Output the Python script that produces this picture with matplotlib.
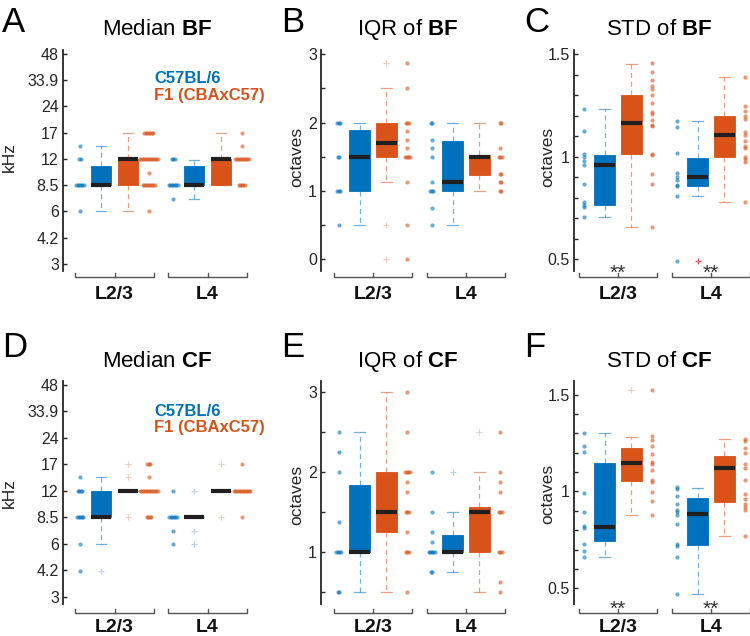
import matplotlib
matplotlib.use('Agg')
import matplotlib.pyplot as plt
import numpy as np

plt.rcParams['font.family'] = 'Liberation Sans'
plt.rcParams['mathtext.fontset'] = 'custom'
plt.rcParams['mathtext.rm'] = 'Liberation Sans'
plt.rcParams['mathtext.bf'] = 'Liberation Sans:bold'

BLUE = '#0072BD'
ORANGE = '#D95319'
DARK = '#262626'

groups = ['L2/3', 'L4']
strains = ['C57BL/6', 'F1 (CBAxC57)']

# ---- A: median BF (kHz) ----
A_blue_23 = [6] + [8.5] * 6 + [12] * 2 + [14.3]
A_orange_23 = [6] + [8.5] * 9 + [10] + [12] * 13 + [17] * 7
A_blue_4 = [7.1] + [8.5] * 7 + [12] * 3
A_orange_4 = [8.5] * 5 + [12] * 10 + [14.3, 17]
# whislo, q1, med, q3, whishi  (blue L2/3, orange L2/3, blue L4, orange L4)
A_stats = [[6, 8.5, 8.5, 11, 14.3], [6, 8.5, 12, 12, 17],
           [7.1, 8.5, 8.5, 10.9, 11.8], [8.5, 8.5, 12, 12, 17]]
A_fliers = [[], [], [], []]

# ---- B: IQR of BF (octaves) ----
B_blue_23 = [0.5] + [1] * 3 + [1.5] * 2 + [2] * 3
B_orange_23 = [0, 0.5, 1.125] + [1.5] * 4 + [1.625, 1.75, 1.875] + [2] * 3 + [2.5, 2.875]
B_blue_4 = [0.5, 0.75] + [1] * 3 + [1.125, 1.5, 1.625, 1.75] + [2] * 2
B_orange_4 = [1] * 2 + [1.125] * 2 + [1.25] * 2 + [1.5] * 3 + [1.625] + [2] * 2
B_stats = [[0.5, 1.0, 1.5, 1.89, 2.0], [1.125, 1.5, 1.7, 2.0, 2.5],
           [0.5, 1.0, 1.125, 1.73, 2.0], [1.0, 1.23, 1.5, 1.52, 2.0]]
B_fliers = [[], [0, 0.5, 2.875], [], []]

# ---- C: STD of BF (octaves) ----
C_blue_23 = [0.707, 0.753, 0.763, 0.779, 0.865, 0.958, 0.98, 1.0, 1.015, 1.125, 1.234]
C_orange_23 = [0.657, 0.867, 0.916, 1.006, 1.014, 1.149, 1.156, 1.177, 1.21, 1.218,
               1.259, 1.30, 1.33, 1.343, 1.373, 1.414, 1.454]
C_blue_4 = [0.49, 0.808, 0.855, 0.86, 0.887, 0.903, 0.919, 1.019, 1.144, 1.174]
C_orange_4 = [0.779, 0.975, 0.99, 0.997, 1.04, 1.053, 1.076, 1.107, 1.12, 1.183,
              1.197, 1.221, 1.245, 1.389]
C_stats = [[0.707, 0.766, 0.958, 1.01, 1.234], [0.657, 1.014, 1.166, 1.30, 1.451],
           [0.808, 0.857, 0.90, 0.994, 1.174], [0.779, 0.997, 1.104, 1.198, 1.386]]
C_fliers = [[], [], [0.49], []]

# ---- D: median CF (kHz) ----
D_blue_23 = [4.2, 6] + [8.5] * 5 + [12] * 4 + [14.3]
D_orange_23 = [8.5] * 4 + [12] * 13 + [14.3] + [17] * 3
D_blue_4 = [6, 7.1] + [8.5] * 6 + [12]
D_orange_4 = [8.5] + [12] * 12 + [17]
D_stats = [[6, 8.5, 8.5, 12, 14.3], [12, 12, 12, 12, 12],
           [8.5, 8.5, 8.5, 8.5, 8.5], [12, 12, 12, 12, 12]]
D_fliers = [[4.2], [8.5, 14.3, 17], [6, 7.1, 12], [8.5, 17]]

# ---- E: IQR of CF (octaves) ----
E_blue_23 = [0.5] * 2 + [1] * 4 + [1.375, 2, 2.25, 2.5]
E_orange_23 = [0.5] + [1] * 3 + [1.25] + [1.5] * 3 + [1.75, 1.875] + [2] * 4 + [2.5, 3]
E_blue_4 = [0.75] * 2 + [1] * 5 + [1.125, 1.25, 1.5, 2]
E_orange_4 = [0.5, 0.625] + [1] * 3 + [1.5] * 3 + [1.75, 1.875, 2, 2.5]
E_stats = [[0.5, 1.0, 1.0, 1.84, 2.5], [0.5, 1.25, 1.5, 2.0, 3.0],
           [0.75, 1.0, 1.0, 1.21, 1.5], [0.5, 1.0, 1.5, 1.56, 2.0]]
E_fliers = [[], [], [2.0], [2.5]]

# ---- F: STD of CF (octaves) ----
F_blue_23 = [0.659, 0.694, 0.727, 0.811, 0.82, 0.896, 0.991, 1.204, 1.237, 1.30]
F_orange_23 = [0.877, 0.953, 0.998, 1.047, 1.06, 1.109, 1.14, 1.152, 1.196, 1.235,
               1.265, 1.287, 1.524]
F_blue_4 = [0.469, 0.659, 0.72, 0.728, 0.832, 0.879, 0.892, 0.905, 0.936, 0.975,
            1.014, 1.022]
F_orange_4 = [0.768, 0.902, 0.919, 0.936, 0.962, 0.988, 1.057, 1.123, 1.143, 1.20,
              1.225, 1.259, 1.273]
F_stats = [[0.659, 0.742, 0.818, 1.149, 1.30], [0.877, 1.054, 1.147, 1.225, 1.282],
           [0.472, 0.723, 0.884, 0.965, 1.019], [0.768, 0.948, 1.123, 1.181, 1.273]]
F_fliers = [[], [1.524], [], []]

khz_ticks = [3 * 2 ** (k / 2) for k in range(9)]
khz_labels = ['3', '4.2', '6', '8.5', '12', '17', '24', '33.9', '48']

W, H = 750, 636
U = 93.0  # pixels per group step

fig = plt.figure(figsize=(W / 100, H / 100), dpi=100)


def spread(vals, x0, step=0.016):
    vals = np.asarray(vals, dtype=float)
    xs, ys = [], []
    for v in np.unique(vals):
        n = int(np.sum(vals == v))
        off = (np.arange(n) - (n - 1) / 2) * step
        xs.extend(x0 + off)
        ys.extend([v] * n)
    return xs, ys


def panel(left, top, bottom, first_px, scatters, stats, fliers, ylim, logy,
          yticks, ylabels, minor, stars, lab_base):
    x0 = 1 - (first_px - left) / U
    x1 = 2.5
    ax = fig.add_axes([left / W, 1 - bottom / H, (x1 - x0) * U / W, (bottom - top) / H])
    ax.patch.set_alpha(0)
    if logy:
        ax.set_yscale('log', base=2)
    ax.set_xlim(x0, x1)
    ax.set_ylim(*ylim)
    cols = [BLUE, ORANGE, BLUE, ORANGE]
    for i in range(4):
        g = 1 + i // 2
        side = -1 if i % 2 == 0 else 1
        xs, ys = spread(scatters[i], g + side * 0.37)
        ax.scatter(xs, ys, s=9, color=cols[i], alpha=0.6, lw=0, zorder=3, clip_on=False)
        q = stats[i]
        st = dict(whislo=q[0], q1=q[1], med=q[2], q3=q[3], whishi=q[4], fliers=fliers[i])
        red = stars and i == 2 and top < 300 and len(fliers[i]) > 0
        fc = '#FF2020' if red else cols[i]
        ax.bxp([st], positions=[g + side * 0.145], widths=0.22, patch_artist=True,
               manage_ticks=False, capwidths=[0.11],
               boxprops=dict(facecolor=cols[i], edgecolor=cols[i], lw=0.6),
               medianprops=dict(color='#202020', lw=3, solid_capstyle='butt'),
               whiskerprops=dict(color=cols[i], alpha=0.55, lw=0.9, ls=(0, (4, 3))),
               capprops=dict(color=cols[i], alpha=0.55, lw=0.9),
               flierprops=dict(marker='+', markeredgecolor=fc, markersize=4,
                               markeredgewidth=0.8, alpha=0.8 if red else 0.3,
                               ls='none'))
    for s in ['top', 'right', 'bottom']:
        ax.spines[s].set_visible(False)
    ax.spines['left'].set_color(DARK)
    ax.spines['left'].set_linewidth(1.3)
    ax.set_xticks([])
    ax.set_yticks(yticks, ylabels)
    if minor is not None:
        ax.set_yticks(minor, minor=True)
    else:
        ax.yaxis.set_minor_locator(plt.NullLocator())
    ax.tick_params(axis='y', which='both', direction='in', length=3, width=1,
                   color=DARK, labelcolor=DARK, labelsize=11.5, pad=3)
    # group brackets
    hpx = bottom - top
    yb = -(5.5 if top < 300 else 8.5) / hpx
    tk = 4 / hpx
    tr = ax.get_xaxis_transform()
    for g in (1, 2):
        ax.plot([g - 0.42, g - 0.42, g + 0.42, g + 0.42], [yb + tk, yb, yb, yb + tk],
                color='#555555', lw=1, transform=tr, clip_on=False)
        ax.plot([g, g], [yb, yb + tk], color='#555555', lw=1, transform=tr, clip_on=False)
        ax.text(g, 1 - (lab_base - top) / hpx, groups[g - 1], transform=tr, ha='center',
                va='baseline', fontsize=14, fontweight='bold', color='#111111')
        if stars:
            ax.text(g, yb - 2 / hpx, '**', transform=tr, ha='center', va='baseline',
                    fontsize=15, color='#333333')
    return ax


def ftext(x, y, s, **kw):
    fig.text(x / W, 1 - y / H, s, **kw)


top_row = (50, 271)
bot_row = (381, 604)

panel(63, *top_row, 114.5, [A_blue_23, A_orange_23, A_blue_4, A_orange_4], A_stats,
      A_fliers, (2.73, 50.6), True, khz_ticks, khz_labels, None, False, 299)
panel(321, *top_row, 373, [B_blue_23, B_orange_23, B_blue_4, B_orange_4], B_stats,
      B_fliers, (-0.172, 3.063), False, [0, 1, 2, 3], ['0', '1', '2', '3'],
      [0.5, 1.5, 2.5], False, 299)
panel(574, *top_row, 618, [C_blue_23, C_orange_23, C_blue_4, C_orange_4], C_stats,
      C_fliers, (0.443, 1.5196), False, [0.5, 1, 1.5], ['0.5', '1', '1.5'],
      np.arange(0.6, 1.45, 0.1), True, 299)
panel(63, *bot_row, 114.5, [D_blue_23, D_orange_23, D_blue_4, D_orange_4], D_stats,
      D_fliers, (2.72, 50.6), True, khz_ticks, khz_labels, None, False, 632)
panel(321, *bot_row, 373, [E_blue_23, E_orange_23, E_blue_4, E_orange_4], E_stats,
      E_fliers, (0.352, 3.134), False, [1, 2, 3], ['1', '2', '3'],
      [0.5, 1.5, 2.5], False, 632)
panel(574, *bot_row, 618, [F_blue_23, F_orange_23, F_blue_4, F_orange_4], F_stats,
      F_fliers, (0.4185, 1.571), False, [0.5, 1, 1.5], ['0.5', '1', '1.5'],
      np.arange(0.6, 1.45, 0.1), True, 632)

# panel letters and titles
for (x, y, s) in [(2, 31.7, 'A'), (281, 31.7, 'B'), (524, 31.7, 'C'),
                  (2, 356.7, 'D'), (281, 356.7, 'E'), (524, 356.7, 'F')]:
    ftext(x, y, s, fontsize=25, ha='left', va='baseline', color='black')
for (x, y, s) in [(157, 35, r'Median $\mathbf{BF}$'), (408, 35, r'IQR of $\mathbf{BF}$'),
                  (659, 35, r'STD of $\mathbf{BF}$'), (157, 366.7, r'Median $\mathbf{CF}$'),
                  (408, 366.7, r'IQR of $\mathbf{CF}$'), (659, 366.7, r'STD of $\mathbf{CF}$')]:
    ftext(x, y, s, fontsize=16, ha='center', va='baseline', color='black')

# y labels
for (x, y, s) in [(9, 157, 'kHz'), (297, 157, 'octaves'), (548, 157, 'octaves'),
                  (9, 493, 'kHz'), (297, 495, 'octaves'), (548, 494, 'octaves')]:
    ftext(x, y, s, fontsize=12.5, rotation=90, ha='center', va='center', color=DARK)

# strain labels
for yb in (83.3, 415.7):
    ftext(154, yb, strains[0], fontsize=12, fontweight='bold', color=BLUE, va='baseline')
    ftext(154, yb + 16.3, strains[1], fontsize=12, fontweight='bold', color=ORANGE,
          va='baseline')

fig.savefig('out.png', dpi=100)
